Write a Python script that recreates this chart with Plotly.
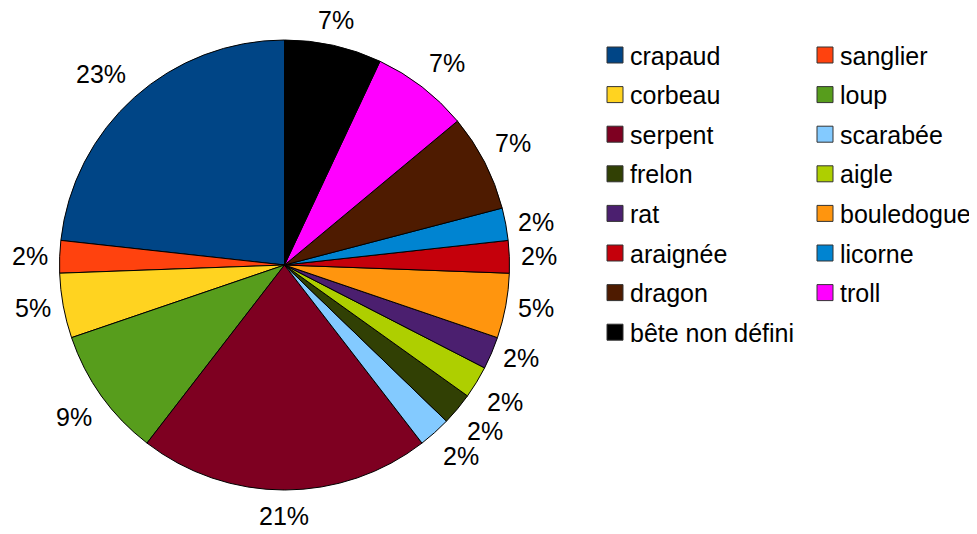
import math
import plotly.graph_objects as go

labels = ["crapaud", "sanglier", "corbeau", "loup", "serpent", "scarabée", "frelon",
          "aigle", "rat", "bouledogue", "araignée", "licorne", "dragon", "troll",
          "bête non défini"]
counts = [10, 1, 2, 4, 9, 1, 1, 1, 1, 2, 1, 1, 3, 3, 3]
colors = ["#004586", "#ff420e", "#ffd320", "#579d1c", "#7e0021", "#83caff", "#314004",
          "#aecf00", "#4b1f6f", "#ff950e", "#c5000b", "#0084d1", "#4e1b00", "#ff00ff",
          "#000000"]

W, H = 977, 534
OFF = 8  # page body margin of the html page
FONT = "Liberation Sans, Arial, sans-serif"
FS = 25


def px(x):
    return (x - OFF) / W


def py(y):
    return 1 - (y - OFF) / H


# pie geometry (page pixels)
CX, CY, R = 284.5, 265.0, 225.0

total = sum(counts)
first_angle = 360.0 * counts[0] / total

fig = go.Figure(go.Pie(
    labels=labels,
    values=counts,
    marker=dict(colors=colors, line=dict(color="#000000", width=1)),
    sort=False,
    direction="counterclockwise",
    rotation=-first_angle,
    textinfo="none",
    showlegend=False,
    hoverinfo="label+percent",
    domain=dict(x=[px(CX - R), px(CX + R)], y=[py(CY + R), py(CY - R)]),
))

annotations = []
shapes = []

# percentage labels outside each slice: anchor on the mid-angle ray, box aligned
# by the sector (side-centred near the axes, corner-aligned on the diagonals)
GAP, HALF_H, SECTOR_HALF = 12.0, 14.0, 24.0
dxs = [1, 1, 0, -1, -1, -1, 0, 1]
dys = [0, -1, -1, -1, 0, 1, 1, 1]
cum = 0.0
for v in counts:
    mid = (cum + v / 2.0) / total * 2 * math.pi  # counterclockwise from 12 o'clock
    cum += v
    ux, uy = -math.sin(mid), -math.cos(mid)       # screen: x right, y down
    txt = f"{round(100.0 * v / total)}%"
    half_w = FS * (0.556 * (len(txt) - 1) + 0.889) / 2
    ax, ay = CX + (R + GAP) * ux, CY + (R + GAP) * uy
    math_deg = (90.0 + math.degrees(mid)) % 360.0
    sector = int(((math_deg + SECTOR_HALF) % 360.0) // 45)  # 0=right,1=right-top,...
    lx = ax + dxs[sector] * half_w
    ly = ay + dys[sector] * HALF_H
    annotations.append(dict(text=txt, xref="paper", yref="paper",
                            x=px(lx), y=py(ly),
                            xanchor="center", yanchor="middle", showarrow=False,
                            font=dict(family=FONT, size=FS, color="#000000")))

# two-column legend
col_x = [607, 817]
row0, row_step, sw = 55, 39.6, 16
for i, (lab, col) in enumerate(zip(labels, colors)):
    cx = col_x[i % 2]
    cy = row0 + (i // 2) * row_step
    shapes.append(dict(type="rect", xref="paper", yref="paper",
                       x0=px(cx), x1=px(cx + sw),
                       y0=py(cy + sw / 2), y1=py(cy - sw / 2),
                       fillcolor=col, line=dict(color="#333333", width=1)))
    annotations.append(dict(text=lab, xref="paper", yref="paper",
                            x=px(cx + 21), y=py(cy + 0.5),
                            xanchor="left", yanchor="middle", showarrow=False,
                            font=dict(family=FONT, size=FS, color="#000000")))

fig.update_layout(
    width=W, height=H,
    margin=dict(l=0, r=0, t=0, b=0, pad=0, autoexpand=False),
    paper_bgcolor="#ffffff",
    plot_bgcolor="#ffffff",
    shapes=shapes,
    annotations=annotations,
)

fig.write_html("out.html")
